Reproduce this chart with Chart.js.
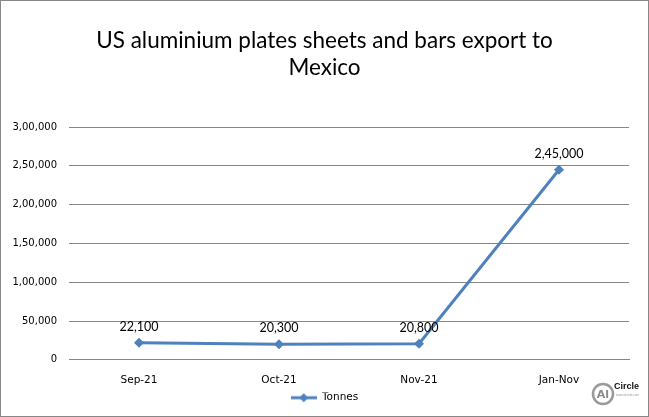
<!DOCTYPE html>
<html>
<head>
<meta charset="utf-8">
<script src="https://cdn.jsdelivr.net/npm/chart.js@4.4.0/dist/chart.umd.min.js"></script>
<style>
    html, body { margin: 0; padding: 0; background: #fff; }
    #wrap { width: 649px; height: 417px; position: relative; }
</style>
</head>
<body>
<div id="wrap"><canvas id="chart" width="649" height="417"></canvas></div>
<script>
//Chart data
const titleLines = ["US aluminium plates sheets and bars export to", "Mexico"];
const periods = ["Sep-21", "Oct-21", "Nov-21", "Jan-Nov"];
const tonnes = [22100, 20300, 20800, 245000];
const seriesName = "Tonnes";
const yMin = 0;
const yMax = 300000;
const yStep = 50000;

const lineColor = "#4F81BD";
const gridColor = "#868686";

//Indian style grouping, ex: 245000 -> "2,45,000"
const fmt = (v) => Number(v).toLocaleString("en-IN");

//Small image used as the legend symbol: a line with a diamond on it
const legendSymbol = (() => {
    const c = document.createElement("canvas");
    c.width = 26;
    c.height = 10;
    const g = c.getContext("2d");
    g.strokeStyle = lineColor;
    g.lineWidth = 3;
    g.beginPath();
    g.moveTo(0, 5);
    g.lineTo(26, 5);
    g.stroke();
    g.fillStyle = lineColor;
    g.beginPath();
    g.moveTo(13, 0.5);
    g.lineTo(17.5, 5);
    g.lineTo(13, 9.5);
    g.lineTo(8.5, 5);
    g.closePath();
    g.fill();
    return c;
})();

//Value labels above each point
const valueLabels = {
    id: "valueLabels",
    afterDatasetsDraw(chart) {
        const ctx = chart.ctx;
        const meta = chart.getDatasetMeta(0);
        ctx.save();
        ctx.font = "12.5px Lato, sans-serif";
        ctx.fillStyle = "#000";
        ctx.textAlign = "center";
        ctx.textBaseline = "middle";
        meta.data.forEach((pt, i) => {
            ctx.fillText(fmt(chart.data.datasets[0].data[i]), pt.x, pt.y - 16);
        });
        ctx.restore();
    },
};

//Outer frame and the small logo in the corner
const frameAndLogo = {
    id: "frameAndLogo",
    afterDraw(chart) {
        const ctx = chart.ctx;
        ctx.save();
        ctx.strokeStyle = "#878787";
        ctx.lineWidth = 1;
        ctx.strokeRect(0.5, 0.5, chart.width - 1, chart.height - 1);

        ctx.strokeStyle = "#9a9a9a";
        ctx.lineWidth = 2.5;
        ctx.beginPath();
        ctx.arc(603, 394, 10, 0, Math.PI * 2);
        ctx.stroke();
        ctx.fillStyle = "#8a8a8a";
        ctx.font = "bold 11px 'DejaVu Sans', sans-serif";
        ctx.textAlign = "center";
        ctx.textBaseline = "middle";
        ctx.fillText("Al", 603, 395);
        ctx.fillStyle = "#111";
        ctx.font = "bold 9px 'Liberation Sans Narrow', 'Liberation Sans', sans-serif";
        ctx.textAlign = "left";
        ctx.fillText("Circle", 614, 387);
        ctx.fillStyle = "#999";
        ctx.font = "3px sans-serif";
        ctx.fillText("www.alcircle.com", 616, 395);
        ctx.restore();
    },
};

const ctx = document.getElementById("chart");
const chart = new Chart(ctx, {
    type: "line",
    data: {
        labels: periods,
        datasets: [
            {
                label: seriesName,
                data: tonnes,
                borderColor: lineColor,
                backgroundColor: lineColor,
                borderWidth: 3,
                pointStyle: "rectRot",
                pointRadius: 5,
                pointBorderWidth: 0,
                tension: 0,
            },
        ],
    },
    options: {
        responsive: false,
        animation: false,
        layout: { padding: { left: 0, right: 0, top: 27, bottom: 4 } },
        plugins: {
            title: {
                display: true,
                text: titleLines,
                color: "#000",
                font: { family: "Lato", size: 22.5, weight: "normal", lineHeight: 1.2 },
                padding: { top: 0, bottom: 46 },
            },
            legend: {
                position: "bottom",
                labels: {
                    usePointStyle: true,
                    pointStyle: legendSymbol,
                    pointStyleWidth: 26,
                    color: "#000",
                    font: { family: "'DejaVu Sans'", size: 10.5 },
                    padding: 0,
                },
            },
            tooltip: { enabled: false },
        },
        scales: {
            x: {
                offset: true,
                grid: { display: false },
                border: { color: gridColor },
                ticks: {
                    color: "#000",
                    font: { family: "'DejaVu Sans'", size: 10.5 },
                    padding: 6,
                },
            },
            y: {
                min: yMin,
                max: yMax,
                afterFit: (scale) => { scale.width = 69; },
                grid: { color: gridColor, drawTicks: false },
                border: { display: false },
                ticks: {
                    stepSize: yStep,
                    color: "#000",
                    padding: 12,
                    font: { family: "'DejaVu Sans'", size: 10 },
                    callback: (v) => fmt(v),
                },
            },
            //empty right-hand axis, only keeps a margin on the right
            yRight: {
                position: "right",
                min: yMin,
                max: yMax,
                afterFit: (scale) => { scale.width = 20; },
                grid: { display: false },
                border: { display: false },
                ticks: { display: false },
            },
        },
    },
    plugins: [valueLabels, frameAndLogo],
});
</script>
</body>
</html>
